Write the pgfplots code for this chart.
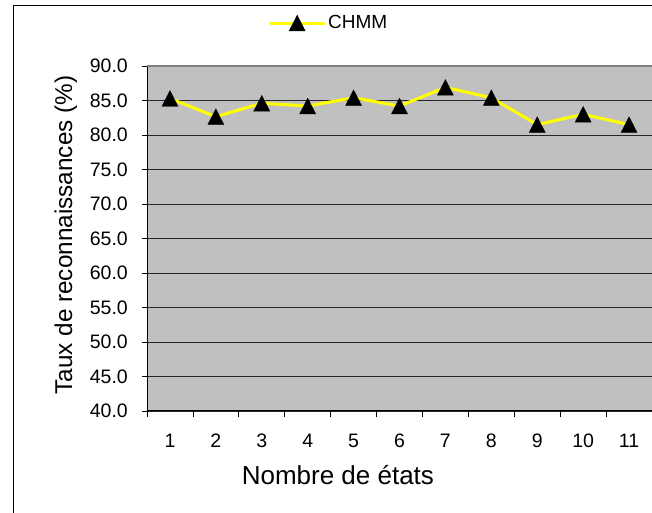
\documentclass[border=0pt]{standalone}
\usepackage{fontspec}
\setmainfont{Liberation Sans}
\usepackage{pgfplots}
\pgfplotsset{compat=1.18}
\definecolor{plotbg}{HTML}{C0C0C0}
\definecolor{lineyel}{HTML}{FFFF00}
\begin{document}
\begin{tikzpicture}[x=1pt,y=1pt]
\useasboundingbox (0,0) rectangle (652,513);
\draw[black, line width=1pt] (13,0) -- (13,507) -- (652,507);
\begin{axis}[
  at={(147pt,102pt)}, anchor=south west,
  scale only axis, width=505pt, height=345pt,
  xmin=0.5, xmax=11.5, ymin=40, ymax=90,
  axis background/.style={fill=plotbg},
  axis lines*=left,
  axis line style={black, line width=1pt},
  tick align=outside,
  xtick={1,...,11},
  major x tick style={draw=none},
  minor xtick={0.5,1.5,...,10.5},
  minor x tick style={black, line width=0.8pt},
  minor tick length=6pt,
  ytick={40,45,...,90},
  major y tick style={black, line width=0.8pt},
  major tick length=5pt,
  ymajorgrids,
  major grid style={black!85, line width=0.8pt},
  /pgf/number format/assume math mode=true,
  yticklabel style={/pgf/number format/.cd, fixed, fixed zerofill, precision=1, /tikz/.cd,
    font=\fontsize{19.5}{22}\selectfont, anchor=east, inner sep=0pt, xshift=-14pt},
  xticklabel style={font=\fontsize{19.5}{22}\selectfont, anchor=base, inner sep=0pt, yshift=-32pt},
  xlabel={Nombre de états},
  xlabel style={font=\fontsize{26}{30}\selectfont, at={(rel axis cs:0.378,-0.2145)}, anchor=base, inner sep=0pt},
  ylabel={Taux de reconnaissances (\%)},
  ylabel style={font=\fontsize{24.3}{28}\selectfont, at={(rel axis cs:-0.1485,0.510)}, anchor=base, inner sep=0pt},
  legend style={at={(rel axis cs:0.2396,1.1246)}, anchor=west, draw=none, fill=none,
    inner sep=0pt, font=\fontsize{19}{22}\selectfont,
    nodes={inner sep=2pt}},
  legend image code/.code={\draw[mark repeat=2,mark phase=2,#1] plot coordinates {(0pt,0pt)(27.5pt,0pt)(55pt,0pt)};},
  clip=false,
]
\addplot[lineyel, line width=3pt, mark=triangle*, mark size=9.3pt,
  mark options={fill=black, draw=black, line width=0.3pt, yshift=-2.6pt, yscale=1.13}]
  coordinates {(1,85.3) (2,82.65) (3,84.6) (4,84.2) (5,85.4) (6,84.2) (7,86.9) (8,85.4) (9,81.5) (10,83.0) (11,81.5)};
\addlegendentry{CHMM}
\draw[gray, line width=1.5pt] (rel axis cs:0,1) -- (rel axis cs:1,1);
\end{axis}
\end{tikzpicture}
\end{document}
